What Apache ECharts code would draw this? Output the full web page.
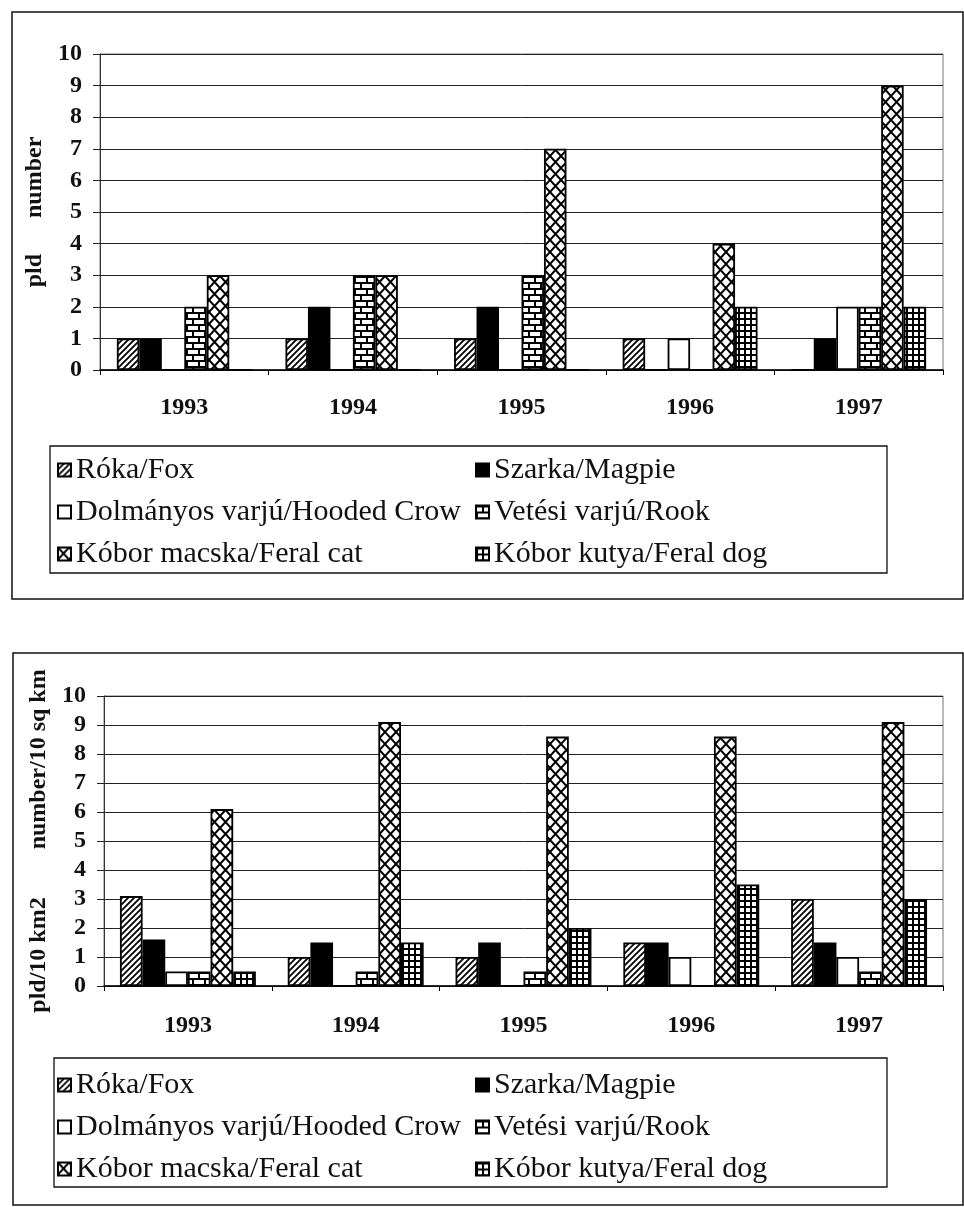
<!DOCTYPE html>
<html>
<head>
<meta charset="utf-8">
<script src="https://cdn.jsdelivr.net/npm/echarts@6/dist/echarts.min.js"></script>
<style>
  html, body { margin: 0; padding: 0; background: #fff; }
  #chart { width: 964px; height: 1207px; }
</style>
</head>
<body>
<div id="chart"></div>
<script>
// Years on the category axis
const years = ['1993', '1994', '1995', '1996', '1997'];
const yTicks = [0, 1, 2, 3, 4, 5, 6, 7, 8, 9, 10];

// Species (legend order)
const speciesNames = [
  'Róka/Fox',
  'Szarka/Magpie',
  'Dolmányos varjú/Hooded Crow',
  'Vetési varjú/Rook',
  'Kóbor macska/Feral cat',
  'Kóbor kutya/Feral dog'
];

// Upper panel: number of animals (pld)
const foxCount    = [1, 1, 1, 1, 0];
const magpieCount = [1, 2, 2, 0, 1];
const crowCount   = [0, 0, 0, 1, 2];
const rookCount   = [2, 3, 3, 0, 2];
const catCount    = [3, 3, 7, 4, 9];
const dogCount    = [0, 0, 0, 2, 2];

// Lower panel: density per 10 km2
const foxDensity    = [3.1, 1.0, 1.0, 1.5, 3.0];
const magpieDensity = [1.6, 1.5, 1.5, 1.5, 1.5];
const crowDensity   = [0.5, 0, 0, 1.0, 1.0];
const rookDensity   = [0.5, 0.5, 0.5, 0, 0.5];
const catDensity    = [6.1, 9.1, 8.6, 8.6, 9.1];
const dogDensity    = [0.5, 1.5, 2.0, 3.5, 3.0];

const topTitle = 'pld' + '\u00a0'.repeat(6) + 'number';
const bottomTitle = 'pld/10 km2' + '\u00a0'.repeat(8) + 'number/10 sq km';

// ---- hatch fills drawn on small tiles ----
function tile(w, h, draw) {
  const c = document.createElement('canvas');
  c.width = w; c.height = h;
  const g = c.getContext('2d');
  g.fillStyle = '#fff';
  g.fillRect(0, 0, w, h);
  g.fillStyle = '#000';
  g.strokeStyle = '#000';
  draw(g, w, h);
  return { image: c, repeat: 'repeat' };
}

const diagFill = tile(6, 6, (g, w, h) => {
  g.lineWidth = 1.8;
  g.beginPath();
  g.moveTo(-1, h + 1); g.lineTo(w + 1, -1);
  g.moveTo(-2, 2); g.lineTo(2, -2);
  g.moveTo(w - 2, h + 2); g.lineTo(w + 2, h - 2);
  g.stroke();
});

const brickFill = tile(12, 12, (g, w, h) => {
  g.fillRect(0, 0, w, 2);
  g.fillRect(0, 6, w, 2);
  g.fillRect(6, 0, 2, 6);
  g.fillRect(0, 6, 2, 6);
});

const crossFill = tile(11, 12, (g, w, h) => {
  g.lineWidth = 2;
  g.beginPath();
  g.moveTo(0, 0); g.lineTo(w, h);
  g.moveTo(0, h); g.lineTo(w, 0);
  g.stroke();
});

const gridFill = tile(6, 6, (g, w, h) => {
  g.fillRect(0, 0, w, 2);
  g.fillRect(0, 0, 2, h);
});

const fills = [diagFill, '#000', '#fff', brickFill, crossFill, gridFill];

const serif = 'Liberation Serif';
const boldLabel = { fontFamily: serif, fontWeight: 'bold', fontSize: 24, color: '#111' };

function makeXAxis(gridIndex, margin) {
  return {
    type: 'category',
    gridIndex,
    data: years,
    axisLine: { lineStyle: { color: '#000', width: 1.5 } },
    axisTick: { show: true, length: 5, lineStyle: { color: '#000' } },
    axisLabel: Object.assign({ margin }, boldLabel)
  };
}

function makeYAxis(gridIndex, name, gap) {
  return {
    type: 'value',
    gridIndex,
    min: yTicks[0],
    max: yTicks[yTicks.length - 1],
    interval: 1,
    name,
    nameLocation: 'middle',
    nameRotate: 90,
    nameGap: gap,
    nameTextStyle: { fontFamily: serif, fontWeight: 'bold', fontSize: 24, color: '#111' },
    axisLine: { show: true, lineStyle: { color: '#333', width: 1 } },
    axisTick: { show: true, length: 7, lineStyle: { color: '#222' } },
    axisLabel: Object.assign({ margin: 18 }, boldLabel),
    splitLine: { show: true, lineStyle: { color: '#222', width: 1 } }
  };
}

function makeSeries(gridIndex, valueSets, catGap) {
  return valueSets.map((vals, i) => ({
    name: speciesNames[i],
    type: 'bar',
    xAxisIndex: gridIndex,
    yAxisIndex: gridIndex,
    data: vals,
    barGap: '0%',
    barCategoryGap: catGap,
    itemStyle: { color: fills[i], borderColor: '#000', borderWidth: 1.8 },
    emphasis: { disabled: true }
  }));
}

function makeLegends(top) {
  const common = {
    orient: 'vertical',
    top,
    padding: 0,
    itemGap: 12,
    itemWidth: 13,
    itemHeight: 13,
    icon: 'rect',
    textStyle: { fontFamily: serif, fontSize: 30, color: '#111', lineHeight: 30 },
    selectedMode: false
  };
  return [
    Object.assign({ left: 57, data: [speciesNames[0], speciesNames[2], speciesNames[4]] }, common),
    Object.assign({ left: 475, data: [speciesNames[1], speciesNames[3], speciesNames[5]] }, common)
  ];
}

function frame(x, y, w, h, lw) {
  return {
    type: 'rect',
    silent: true,
    shape: { x, y, width: w, height: h },
    style: { fill: 'none', stroke: '#111', lineWidth: lw }
  };
}

const chart = echarts.init(document.getElementById('chart'), null, { renderer: 'canvas' });

chart.setOption({
  backgroundColor: '#fff',
  animation: false,
  grid: [
    { left: 100, right: 21, top: 54, height: 316, show: true, borderColor: '#777', borderWidth: 1 },
    { left: 104, right: 21, top: 696, height: 290, show: true, borderColor: '#777', borderWidth: 1 }
  ],
  xAxis: [makeXAxis(0, 26), makeXAxis(1, 28)],
  yAxis: [makeYAxis(0, topTitle, 45), makeYAxis(1, bottomTitle, 52)],
  legend: makeLegends(455).concat(makeLegends(1070)),
  graphic: [
    frame(12, 12, 951, 587, 1.5),
    frame(50, 446, 837, 127, 1.3),
    frame(13, 653, 950, 552, 1.5),
    frame(54, 1058, 833, 129, 1.3)
  ],
  series: makeSeries(0, [foxCount, magpieCount, crowCount, rookCount, catCount, dogCount], '20%')
    .concat(makeSeries(1, [foxDensity, magpieDensity, crowDensity, rookDensity, catDensity, dogDensity], '19%'))
});
</script>
</body>
</html>
